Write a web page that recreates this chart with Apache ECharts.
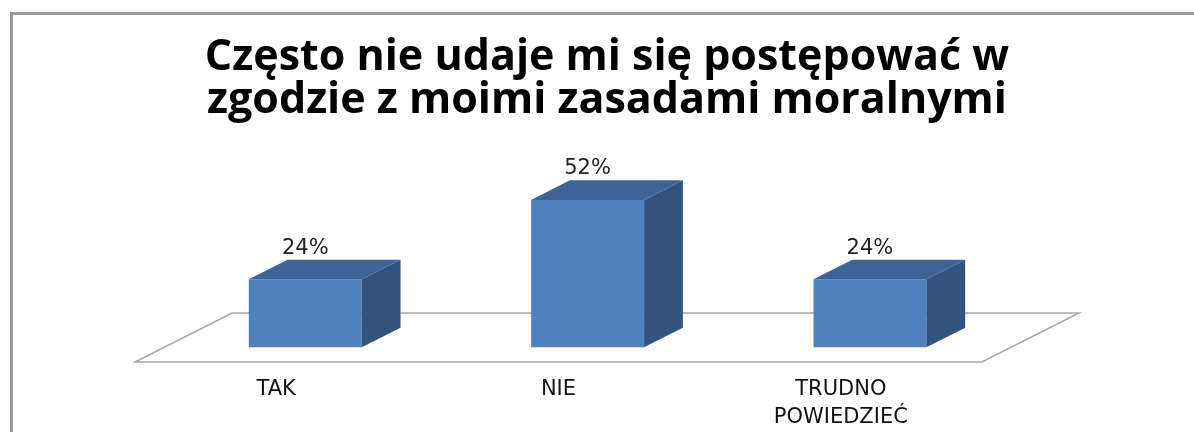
<!DOCTYPE html>
<html>
<head>
<meta charset="utf-8">
<script src="https://cdn.jsdelivr.net/npm/echarts@6/dist/echarts.min.js"></script>
<style>html,body{margin:0;padding:0;background:#fff;}#c{width:1194px;height:432px;}</style>
</head>
<body>
<div id="c"></div>
<script>
const titleText = 'Często nie udaje mi się postępować w\nzgodzie z moimi zasadami moralnymi';
const categories = ['TAK', 'NIE', 'TRUDNO\nPOWIEDZIEĆ'];
const values = [24, 52, 24];
const valueLabels = ['24%', '52%', '24%'];

const DEPTH = [97, -49];        // floor depth vector (oblique projection)
const BAR_FRONT = 0.3, BAR_BACK = 0.7; // bar position within floor depth
const BAR_WIDTH_RATIO = 0.4;

const chart = echarts.init(document.getElementById('c'), null, {renderer: 'canvas'});

function floorItem(params, api) {
  const cs = params.coordSys;
  const fy = cs.y + cs.height;
  const x0 = cs.x, x1 = cs.x + cs.width;
  return {
    type: 'polygon',
    shape: {points: [[x0, fy], [x1, fy], [x1 + DEPTH[0], fy + DEPTH[1]], [x0 + DEPTH[0], fy + DEPTH[1]]]},
    style: {fill: '#ffffff', stroke: '#a6a6a6', lineWidth: 1.5}
  };
}

function barItem(params, api) {
  const idx = api.value(0);
  const val = api.value(1);
  const base = api.coord([idx, 0]);
  const top = api.coord([idx, val]);
  const band = api.size([1, 0])[0];
  const w = band * BAR_WIDTH_RATIO;
  const fdx = DEPTH[0] * BAR_FRONT, fdy = DEPTH[1] * BAR_FRONT;
  const bdx = DEPTH[0] * (BAR_BACK - BAR_FRONT), bdy = DEPTH[1] * (BAR_BACK - BAR_FRONT);
  const cx = base[0] + fdx;
  const xl = cx - w / 2, xr = cx + w / 2;
  const yb = base[1] + fdy, yt = top[1] + fdy;
  return {
    type: 'group',
    children: [
      {type: 'polygon', shape: {points: [[xl, yb], [xr, yb], [xr, yt], [xl, yt]]},
       style: {fill: '#4F81BD'}},
      {type: 'polygon', shape: {points: [[xl, yt], [xr, yt], [xr + bdx, yt + bdy], [xl + bdx, yt + bdy]]},
       style: {fill: '#3D6495'}},
      {type: 'polygon', shape: {points: [[xr, yb], [xr, yt], [xr + bdx, yt + bdy], [xr + bdx, yb + bdy]]},
       style: {fill: '#33547F'}},
      {type: 'text', x: cx, y: yt - 31,
       style: {text: valueLabels[idx], fill: '#222', font: '21px "DejaVu Sans"', align: 'center', verticalAlign: 'middle'}}
    ]
  };
}

const option = {
  backgroundColor: '#ffffff',
  animation: false,
  title: {
    text: titleText,
    left: 602,
    top: 31,
    textAlign: 'center',
    textStyle: {fontFamily: 'Open Sans', fontWeight: 'bold', fontSize: 43, lineHeight: 43, color: '#000'}
  },
  graphic: [{
    type: 'rect', left: 9, top: 11, z: 100,
    shape: {x: 0, y: 0, width: 1400, height: 600},
    style: {fill: 'none', stroke: '#9a9a9a', lineWidth: 3}
  }],
  grid: {left: 135, right: 212, top: 192, bottom: 70, containLabel: false},
  xAxis: {
    type: 'category', data: categories,
    axisLine: {show: false}, axisTick: {show: false}, splitLine: {show: false},
    axisLabel: {fontFamily: 'DejaVu Sans', fontSize: 21, color: '#111', lineHeight: 28, margin: 14, interval: 0}
  },
  yAxis: {type: 'value', min: 0, max: 60, show: false, splitLine: {show: false}},
  series: [
    {type: 'custom', renderItem: floorItem, data: [[0, 0]], silent: true, z: 1},
    {type: 'custom', renderItem: barItem, data: values.map((v, i) => [i, v]), z: 2,
     encode: {x: 0, y: 1}}
  ]
};
chart.setOption(option);
</script>
</body>
</html>
